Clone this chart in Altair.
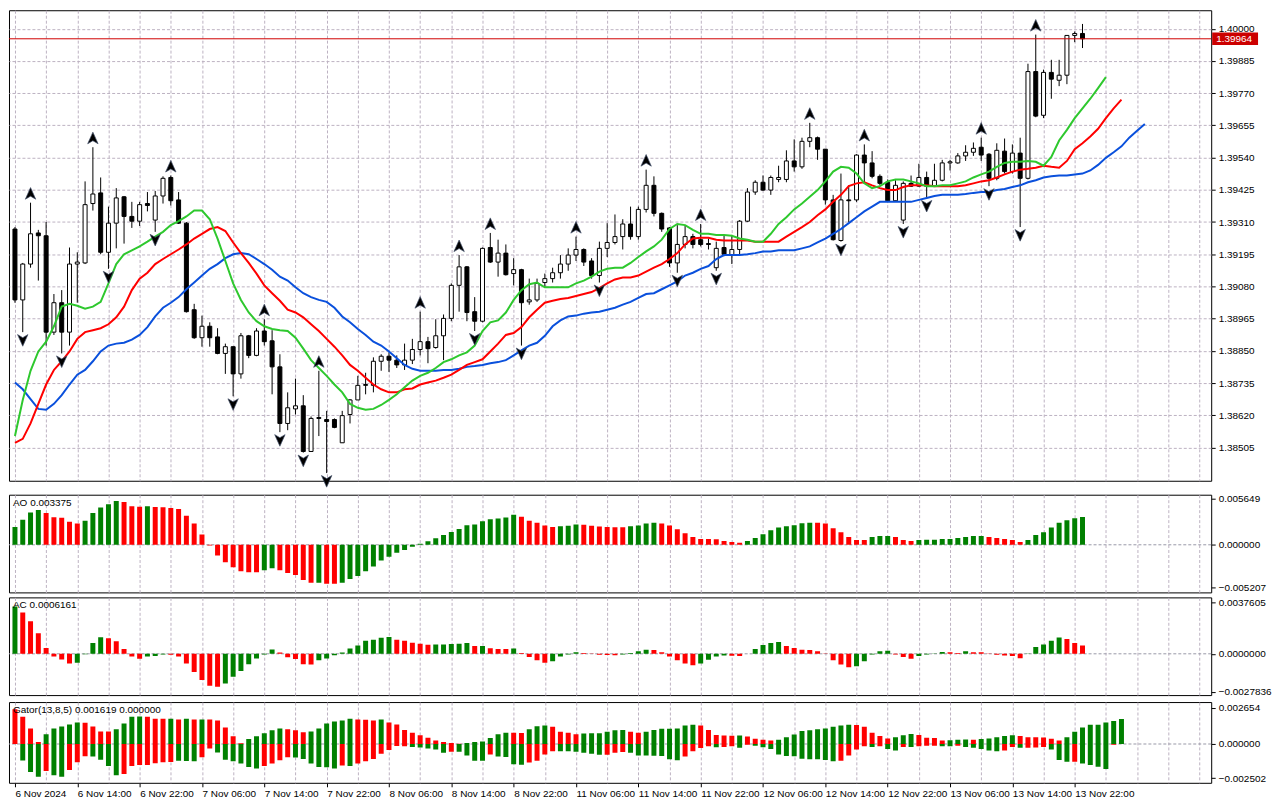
import json
import altair as alt
import pandas as pd

# ---------------- price data (units of 0.00001) ----------------
OPEN = [139285, 139032, 139160, 139271, 139261, 138917, 139022, 138917, 139160, 139164,
        139376, 139414, 139202, 139306, 139400, 139330, 139313, 139376, 139317, 139403,
        139469, 139389, 139306, 138997, 138897, 138938, 138900, 138841, 138865, 138768,
        138904, 138834, 138921, 138886, 138793, 138591, 138643, 138654, 138491, 138612,
        138605, 138605, 138522, 138623, 138675, 138727, 138727, 138813, 138831, 138817,
        138800, 138817, 138855, 138883, 138862, 138904, 138966, 139084, 139150, 138990,
        138956, 139219, 139167, 139199, 139126, 139140, 139025, 139032, 139094, 139108,
        139129, 139160, 139192, 139212, 139171, 139119, 139216, 139237, 139258, 139303,
        139258, 139355, 139441, 139341, 139289, 139164, 139230, 139258, 139247, 139233,
        139147, 139219, 139192, 139212, 139313, 139417, 139452, 139424, 139462, 139462,
        139528, 139507, 139598, 139611, 139570, 139389, 139244, 139389, 139389, 139549,
        139521, 139473, 139452, 139386, 139317, 139448, 139438, 139469, 139438, 139459,
        139521, 139521, 139546, 139559, 139577, 139552, 139466, 139563, 139490, 139556,
        139466, 139847, 139691, 139844, 139816, 139834, 139976, 139983]
HIGH = [139292, 139164, 139379, 139282, 139310, 139053, 139067, 139219, 139202, 139455,
        139577, 139469, 139365, 139431, 139403, 139382, 139382, 139417, 139421, 139473,
        139476, 139417, 139310, 139018, 138976, 138952, 138931, 138876, 138866, 138914,
        138907, 138931, 138963, 138924, 138838, 138702, 138751, 138692, 138616, 138779,
        138636, 138609, 138636, 138678, 138761, 138772, 138827, 138838, 138845, 138834,
        138876, 138893, 138990, 138900, 138963, 138980, 139091, 139192, 139153, 139042,
        139219, 139271, 139247, 139230, 139181, 139143, 139108, 139108, 139126, 139147,
        139192, 139216, 139258, 139216, 139181, 139240, 139306, 139337, 139320, 139365,
        139365, 139497, 139473, 139344, 139292, 139299, 139299, 139268, 139303, 139251,
        139240, 139261, 139264, 139317, 139431, 139459, 139476, 139476, 139511, 139566,
        139605, 139611, 139664, 139615, 139570, 139407, 139483, 139441, 139552, 139587,
        139563, 139480, 139462, 139459, 139455, 139476, 139518, 139490, 139518, 139532,
        139532, 139556, 139584, 139594, 139611, 139556, 139591, 139608, 139587, 139611,
        139875, 139979, 139854, 139889, 139889, 139977, 139990, 140017]
LOW = [139022, 138917, 139147, 139101, 138869, 138907, 138841, 138869, 139022, 139160,
       139351, 139195, 139143, 139216, 139233, 139289, 139296, 139348, 139275, 139376,
       139369, 139303, 138987, 138893, 138865, 138865, 138838, 138768, 138688, 138751,
       138824, 138831, 138869, 138695, 138560, 138567, 138623, 138487, 138491, 138546,
       138414, 138574, 138522, 138591, 138675, 138695, 138702, 138779, 138775, 138789,
       138782, 138803, 138834, 138806, 138858, 138817, 138956, 138990, 138956, 138921,
       138952, 139164, 139115, 139119, 139084, 138869, 139015, 139025, 139077, 139094,
       139108, 139136, 139171, 139153, 139108, 139094, 139185, 139230, 139212, 139247,
       139247, 139344, 139330, 139275, 139150, 139129, 139216, 139216, 139223, 139212,
       139136, 139188, 139160, 139195, 139310, 139407, 139421, 139407, 139452, 139452,
       139490, 139500, 139577, 139532, 139372, 139244, 139240, 139310, 139382, 139448,
       139466, 139441, 139386, 139382, 139303, 139435, 139435, 139396, 139435, 139455,
       139494, 139518, 139528, 139546, 139528, 139438, 139459, 139483, 139483, 139292,
       139462, 139684, 139681, 139750, 139795, 139802, 139952, 139931]
CLOSE = [139032, 139160, 139268, 139261, 138917, 139022, 138917, 139160, 139167, 139372,
         139410, 139202, 139306, 139396, 139330, 139313, 139372, 139369, 139403, 139466,
         139386, 139306, 138990, 138897, 138938, 138897, 138841, 138865, 138768, 138904,
         138834, 138921, 138883, 138793, 138591, 138647, 138654, 138491, 138609, 138609,
         138598, 138577, 138619, 138675, 138727, 138730, 138813, 138831, 138817, 138800,
         138817, 138855, 138883, 138858, 138904, 138966, 139084, 139150, 138987, 138956,
         139216, 139167, 139199, 139122, 139140, 139022, 139032, 139091, 139108, 139129,
         139160, 139192, 139212, 139167, 139119, 139216, 139237, 139258, 139303, 139258,
         139355, 139441, 139341, 139285, 139164, 139230, 139258, 139230, 139230, 139230,
         139216, 139195, 139212, 139313, 139417, 139452, 139424, 139469, 139469, 139528,
         139507, 139598, 139611, 139570, 139389, 139247, 139389, 139386, 139549, 139521,
         139473, 139448, 139386, 139441, 139448, 139438, 139469, 139438, 139459, 139521,
         139525, 139546, 139559, 139573, 139549, 139466, 139566, 139490, 139556, 139466,
         139847, 139688, 139844, 139820, 139834, 139976, 139983, 139964]

# Alligator lines (already displaced forward, units of 0.00001)
LIPS = [138546, 138675, 138779, 138848, 138883, 138938, 139008, 139018, 139011, 139001,
        139008, 139025, 139091, 139160, 139195, 139209, 139223, 139240, 139258, 139275,
        139299, 139313, 139330, 139351, 139351, 139320, 139251, 139171, 139091, 139032,
        138987, 138956, 138938, 138928, 138924, 138921, 138897, 138858, 138817, 138789,
        138761, 138730, 138702, 138661, 138647, 138640, 138643, 138657, 138675, 138695,
        138720, 138744, 138761, 138772, 138789, 138810, 138820, 138834, 138845, 138869,
        138921, 138952, 138959, 138987, 139032, 139067, 139088, 139094, 139077, 139077,
        139077, 139077, 139091, 139101, 139115, 139133, 139143, 139147, 139147, 139164,
        139185, 139205, 139223, 139247, 139285, 139303, 139299, 139282, 139268, 139268,
        139264, 139264, 139261, 139251, 139247, 139240, 139240, 139268, 139303, 139327,
        139355, 139376, 139400, 139424, 139455, 139490, 139507, 139504, 139483, 139448,
        139431, 139438, 139455, 139462, 139462, 139455, 139448, 139438, 139438, 139441,
        139441, 139448, 139455, 139469, 139480, 139490, 139507, 139521, 139525, 139525,
        139528, 139525, 139511, 139542, 139601, 139639, 139681, 139716, 139750, 139788,
        139827]
TEETH = [138522, 138536, 138591, 138661, 138730, 138782, 138813, 138848, 138893, 138917,
         138924, 138931, 138945, 138970, 139008, 139067, 139108, 139129, 139160, 139178,
         139195, 139212, 139230, 139251, 139268, 139285, 139292, 139278, 139237, 139199,
         139164, 139126, 139084, 139056, 139029, 138997, 138987, 138970, 138945, 138921,
         138893, 138865, 138834, 138800, 138779, 138754, 138730, 138713, 138702, 138702,
         138713, 138716, 138730, 138737, 138744, 138754, 138765, 138782, 138800, 138810,
         138820, 138848, 138876, 138907, 138914, 138935, 138970, 138997, 139022, 139029,
         139035, 139039, 139046, 139053, 139060, 139074, 139091, 139105, 139112, 139112,
         139119, 139133, 139147, 139160, 139178, 139199, 139230, 139251, 139254, 139254,
         139247, 139244, 139244, 139244, 139244, 139240, 139240, 139240, 139240, 139258,
         139275, 139292, 139310, 139334, 139355, 139382, 139407, 139438, 139448, 139452,
         139441, 139431, 139424, 139424, 139435, 139441, 139441, 139441, 139438, 139438,
         139438, 139438, 139441, 139448, 139455, 139459, 139469, 139480, 139490, 139497,
         139500, 139504, 139511, 139507, 139504, 139528, 139570, 139591, 139615, 139643,
         139681, 139716, 139747]
JAW = [138737, 138713, 138678, 138643, 138640, 138661, 138692, 138730, 138765, 138782,
       138813, 138848, 138869, 138876, 138879, 138890, 138907, 138935, 138973, 139004,
       139022, 139042, 139070, 139094, 139119, 139143, 139160, 139181, 139195, 139199,
       139195, 139178, 139160, 139140, 139115, 139101, 139077, 139056, 139042, 139032,
       139025, 139004, 138973, 138952, 138928, 138907, 138883, 138869, 138848, 138824,
       138800, 138786, 138779, 138779, 138779, 138782, 138782, 138786, 138793, 138796,
       138800, 138806, 138810, 138817, 138834, 138852, 138869, 138879, 138904, 138938,
       138959, 138973, 138976, 138983, 138987, 138990, 138997, 139004, 139015, 139025,
       139039, 139053, 139056, 139070, 139084, 139098, 139119, 139129, 139143, 139153,
       139178, 139192, 139192, 139192, 139195, 139199, 139205, 139205, 139209, 139209,
       139209, 139216, 139223, 139237, 139251, 139268, 139285, 139306, 139327, 139348,
       139365, 139382, 139382, 139382, 139382, 139382, 139389, 139396, 139403, 139407,
       139407, 139407, 139410, 139414, 139417, 139417, 139424, 139428, 139435, 139441,
       139452, 139459, 139469, 139473, 139476, 139476, 139480, 139483, 139494, 139514,
       139539, 139559, 139580, 139611, 139636, 139660]

FRACTAL_UP = [2, 10, 20, 32, 39, 52, 57, 61, 72, 81, 88, 102, 109, 124, 131]
FRACTAL_DOWN = [1, 6, 12, 18, 28, 34, 37, 40, 59, 65, 75, 85, 90, 106, 114, 117, 125, 129]

# ---------------- oscillators ----------------
AO = [0.00216, 0.00306, 0.00392, 0.00423, 0.00388, 0.00337, 0.00329, 0.00282, 0.00259, 0.00294,
      0.00388, 0.00455, 0.00494, 0.00533, 0.00521, 0.00470, 0.00463, 0.00470, 0.00459, 0.00458,
      0.00447, 0.00435, 0.00353, 0.00259, 0.00126, -0.00008, -0.00129, -0.00212, -0.00275, -0.00322,
      -0.00334, -0.00335, -0.00310, -0.00286, -0.00310, -0.00345, -0.00369, -0.00428, -0.00463, -0.00461,
      -0.00475, -0.00476, -0.00463, -0.00416, -0.00380, -0.00322, -0.00263, -0.00192, -0.00145, -0.00098,
      -0.00063, -0.00024, 0.00012, 0.00043, 0.00079, 0.00118, 0.00157, 0.00192, 0.00239, 0.00247,
      0.00286, 0.00310, 0.00321, 0.00333, 0.00365, 0.00341, 0.00294, 0.00267, 0.00235, 0.00216,
      0.00227, 0.00231, 0.00247, 0.00243, 0.00231, 0.00223, 0.00216, 0.00215, 0.00214, 0.00227,
      0.00235, 0.00259, 0.00270, 0.00259, 0.00235, 0.00188, 0.00141, 0.00094, 0.00071, 0.00070,
      0.00069, 0.00047, 0.00035, 0.00024, 0.00047, 0.00082, 0.00129, 0.00176, 0.00212, 0.00227,
      0.00239, 0.00263, 0.00270, 0.00267, 0.00259, 0.00200, 0.00153, 0.00094, 0.00059, 0.00058,
      0.00094, 0.00106, 0.00107, 0.00094, 0.00059, 0.00047, 0.00059, 0.00060, 0.00061, 0.00071,
      0.00072, 0.00082, 0.00094, 0.00106, 0.00107, 0.00094, 0.00082, 0.00071, 0.00059, 0.00035,
      0.00059, 0.00118, 0.00153, 0.00212, 0.00270, 0.00300, 0.00322, 0.003375]
AO_COL = ("gggg" "rrrrr" "ggggg" "rrr" "g" "rrrrrrrrrr" "rrrr" "gg" "rrrrr" "g" "rr"
          "gggggggggg" "gggggggggg" "ggg" "rrrrr" "ggg" "rrrrrr" "gggg" "rrrrrrrrrr" "r"
          "ggggggggg" "rrrrrrr" "ggg" "rrr" "ggggggggg" "rrrrr" "gggggggg")

AC = [0.00347, 0.00304, 0.00239, 0.00151, 0.00043, -0.00019, -0.00041, -0.00072, -0.00065, -0.00003,
      0.00079, 0.00122, 0.00115, 0.00093, 0.00036, -0.00019, -0.00036, -0.00019, -0.00017, -0.00005,
      -0.00007, -0.00019, -0.00072, -0.00134, -0.00192, -0.00235, -0.00242, -0.00218, -0.00168, -0.00127,
      -0.00077, -0.00034, -0.00005, 0.00031, 0.00010, -0.00026, -0.00038, -0.00077, -0.00078, -0.00048,
      -0.00034, -0.00010, 0.00010, 0.00038, 0.00060, 0.00096, 0.00103, 0.00117, 0.00124, 0.00103,
      0.00096, 0.00081, 0.00074, 0.00067, 0.00068, 0.00069, 0.00072, 0.00074, 0.00079, 0.00057,
      0.00058, 0.00041, 0.00036, 0.00035, 0.00038, 0.00005, -0.00024, -0.00048, -0.00065, -0.00055,
      -0.00019, -0.00005, 0.00012, 0.00005, -0.00002, -0.00007, -0.00008, -0.00010, -0.00005, 0.00005,
      0.00019, 0.00029, 0.00028, 0.00012, -0.00019, -0.00048, -0.00072, -0.00084, -0.00072, -0.00043,
      -0.00019, -0.00012, -0.00014, -0.00017, 0.00000, 0.00036, 0.00065, 0.00079, 0.00086, 0.00057,
      0.00043, 0.00029, 0.00028, 0.00019, -0.00002, -0.00048, -0.00079, -0.00098, -0.00091, -0.00055,
      -0.00005, 0.00019, 0.00022, -0.00005, -0.00024, -0.00036, -0.00017, -0.00005, -0.00002, 0.00014,
      0.00012, 0.00005, 0.00019, 0.00012, 0.00011, -0.00002, -0.00007, -0.00012, -0.00017, -0.00033,
      -0.00002, 0.00050, 0.00069, 0.00096, 0.00120, 0.00108, 0.00079, 0.0006161]
AC_COL = ("g" "rrrrrrr" "gggg" "rrrrr" "ggg" "rrrrrrr" "ggggggg" "rrrrr" "gggggggggg" "rrrrr"
          "ggggg" "r" "g" "rrr" "g" "rrrr" "gggg" "rrrrr" "gggg" "rrrrrr" "gggg" "rr" "ggggg"
          "rrrrrrrrr" "ggggg" "rrr" "gggg" "rr" "g" "rrrrrrr" "ggggg" "rrr")

GATOR_UP = [0.00254, 0.00199, 0.00114, 0.00014, 0.00071, 0.00114, 0.00128, 0.00142, 0.00156, 0.00155,
            0.00128, 0.00092, 0.00091, 0.00107, 0.00149, 0.00199, 0.00200, 0.00198, 0.00185, 0.00184,
            0.00185, 0.00178, 0.00185, 0.00178, 0.00179, 0.00178, 0.00171, 0.00121, 0.00057, 0.00005,
            0.00036, 0.00057, 0.00078, 0.00100, 0.00114, 0.00107, 0.00100, 0.00085, 0.00092, 0.00114,
            0.00149, 0.00164, 0.00171, 0.00185, 0.00178, 0.00177, 0.00171, 0.00178, 0.00156, 0.00142,
            0.00102, 0.00083, 0.00064, 0.00045, 0.00026, 0.00014, 0.00007, 0.00002, 0.00007, 0.00014,
            0.00019, 0.00043, 0.00071, 0.00083, 0.00082, 0.00081, 0.00107, 0.00130, 0.00135, 0.00126,
            0.00090, 0.00083, 0.00071, 0.00076, 0.00078, 0.00079, 0.00090, 0.00100, 0.00102, 0.00090,
            0.00083, 0.00090, 0.00102, 0.00111, 0.00112, 0.00113, 0.00135, 0.00140, 0.00135, 0.00102,
            0.00066, 0.00062, 0.00061, 0.00062, 0.00055, 0.00038, 0.00031, 0.00026, 0.00031, 0.00050,
            0.00069, 0.00095, 0.00100, 0.00107, 0.00114, 0.00126, 0.00135, 0.00140, 0.00139, 0.00126,
            0.00083, 0.00059, 0.00040, 0.00050, 0.00064, 0.00073, 0.00066, 0.00045, 0.00043, 0.00026,
            0.00027, 0.00031, 0.00032, 0.00031, 0.00036, 0.00040, 0.00050, 0.00059, 0.00064, 0.00059,
            0.00050, 0.00049, 0.00048, 0.00038, 0.00026, 0.00050, 0.00090, 0.00121, 0.00140, 0.00140,
            0.00156, 0.00168, 0.00182]
GATOR_UP_COL = ("rrrr" "ggggg" "rrrr" "gggg" "rrr" "g" "r" "g" "r" "g" "rrrrr" "ggggg" "rrr"
                "gggggg" "rrr" "g" "rrrrrrrrrr" "gggggg" "rr" "ggg" "rrrr" "gggggg" "rr"
                "ggggggg" "rrrrr" "g" "rrrr" "gggggggggg" "rrrrr" "ggg" "rrrr" "ggg" "r"
                "ggggg" "rrrrrr" "gggggggg")
GATOR_DN = [0, -0.00121, -0.00204, -0.00239, -0.00197, -0.00228, -0.00239, -0.00190, -0.00133, -0.00090,
            -0.00091, -0.00114, -0.00161, -0.00228, -0.00218, -0.00161, -0.00154, -0.00153, -0.00140, -0.00133,
            -0.00132, -0.00123, -0.00124, -0.00126, -0.00097, -0.00033, -0.00062, -0.00114, -0.00126, -0.00142,
            -0.00168, -0.00178, -0.00161, -0.00142, -0.00119, -0.00097, -0.00098, -0.00109, -0.00142, -0.00168,
            -0.00170, -0.00178, -0.00156, -0.00160, -0.00142, -0.00126, -0.00109, -0.00071, -0.00043, -0.00014,
            -0.00017, -0.00021, -0.00026, -0.00033, -0.00040, -0.00064, -0.00057, -0.00057, -0.00083, -0.00123,
            -0.00123, -0.00076, -0.00092, -0.00095, -0.00147, -0.00152, -0.00135, -0.00123, -0.00076, -0.00052,
            -0.00052, -0.00052, -0.00057, -0.00064, -0.00071, -0.00078, -0.00078, -0.00064, -0.00059, -0.00064,
            -0.00083, -0.00084, -0.00085, -0.00088, -0.00111, -0.00118, -0.00092, -0.00052, -0.00030, -0.00017,
            -0.00024, -0.00021, -0.00017, -0.00028, -0.00005, -0.00012, -0.00024, -0.00036, -0.00076, -0.00088,
            -0.00090, -0.00107, -0.00111, -0.00112, -0.00116, -0.00126, -0.00123, -0.00083, -0.00040, -0.00017,
            -0.00021, -0.00017, -0.00036, -0.00047, -0.00021, -0.00022, -0.00017, -0.00012, -0.00012, -0.00017,
            -0.00017, -0.00012, -0.00021, -0.00028, -0.00036, -0.00047, -0.00052, -0.00047, -0.00021, -0.00028,
            -0.00027, -0.00026, -0.00021, -0.00040, -0.00116, -0.00130, -0.00129, -0.00142, -0.00154, -0.00166,
            -0.00182, -0.00005, 0]
GATOR_DN_COL = ("g" "ggg" "r" "gg" "rrr" "gggg" "rrrrrrr" "ggg" "rr" "gggggg" "rrrr" "gggggg" "r"
                "g" "rrrrrrr" "ggggg" "r" "gggg" "r" "gggg" "rrrr" "gggggg" "rrr" "ggggggg" "rrrr"
                "g" "rr" "g" "r" "ggggggggggg" "rrrr" "g" "r" "gg" "r" "g" "rrr" "gg" "r" "ggggg"
                "rr" "g" "rrr" "ggg" "r" "gggg" "rr")

X_LABELS = ["6 Nov 2024", "6 Nov 14:00", "6 Nov 22:00", "7 Nov 06:00", "7 Nov 14:00",
            "7 Nov 22:00", "8 Nov 06:00", "8 Nov 14:00", "8 Nov 22:00", "11 Nov 06:00",
            "11 Nov 14:00", "11 Nov 22:00", "12 Nov 06:00", "12 Nov 14:00", "12 Nov 22:00",
            "13 Nov 06:00", "13 Nov 14:00", "13 Nov 22:00"]
PRICE_TICKS = [1.40000, 1.39885, 1.39770, 1.39655, 1.39540, 1.39425, 1.39310,
               1.39195, 1.39080, 1.38965, 1.38850, 1.38735, 1.38620, 1.38505]
AO_TICKS = [-0.005207, 0.0, 0.005649]
AC_TICKS = [-0.0027836, 0.0, 0.0037605]
GATOR_TICKS = [-0.002502, 0.0, 0.002654]
GATOR_TITLE = "Gator(13,8,5) 0.001619 0.000000"

# ---------------- layout / style ----------------
W = 1206
H_MAIN, H_AO, H_AC, H_GT = 472, 98, 98, 81
GRID = "#BDB2C2"
FONT = "Liberation Sans"
FS = 10
GREEN_BAR, RED_BAR = "#008000", "#FF0000"

xscale = alt.Scale(domain=[-0.125, 152.875], nice=False, zero=False)
grid_vals = list(range(0, 153, 4))
last_lab = 8 * (len(X_LABELS) - 1)
ax_hidden = alt.Axis(values=grid_vals, grid=True, gridColor=GRID, gridDash=[3, 2],
                     labels=False, ticks=False, domain=False, title=None)
lab_expr = ("(datum.value % 8 === 0 && datum.value <= " + str(last_lab) + ") ? "
            + json.dumps(X_LABELS) + "[datum.value / 8] : ''")
ax_bottom = alt.Axis(values=grid_vals, grid=True, gridColor=GRID, gridDash=[3, 2],
                     labelExpr=lab_expr, labelAlign="left", labelPadding=2,
                     labelFlush=False, labelOverlap=False, labelBound=False,
                     tickSize=4,
                     tickColor={"condition": {"test": "datum.value % 8 === 0 && datum.value <= " + str(last_lab),
                                              "value": "black"}, "value": "transparent"},
                     domain=False, title=None, labelFont=FONT, labelFontSize=FS, labelColor="black")

ymain = alt.Scale(domain=[1.383865, 1.400659], nice=False, zero=False)
ax_price = alt.Axis(orient="right", values=PRICE_TICKS, format=".5f", grid=True, gridColor=GRID,
                    gridDash=[3, 2], tickSize=4, tickColor="black", domain=False, labelPadding=3,
                    title=None, labelFont=FONT, labelFontSize=FS, labelColor="black")


def X(axis):
    return alt.X("i:Q", scale=xscale, axis=axis, title=None)


# ---------------- main price panel ----------------
n = len(CLOSE)
candles = pd.DataFrame({
    "i": list(range(n)),
    "o": [v / 1e5 for v in OPEN],
    "h": [v / 1e5 for v in HIGH],
    "l": [v / 1e5 for v in LOW],
    "c": [v / 1e5 for v in CLOSE],
})
candles["top"] = candles[["o", "c"]].max(axis=1)
candles["bot"] = candles[["o", "c"]].min(axis=1)


def Yp(field):
    return alt.Y(field + ":Q", scale=ymain, axis=ax_price, title=None)


wicks = alt.Chart(candles).mark_rule(color="black", strokeWidth=1, clip=True).encode(
    x=X(ax_hidden), y=Yp("l"), y2="h:Q")
bodies = alt.Chart(candles).mark_bar(size=4, stroke="black", strokeWidth=1, clip=True).encode(
    x=X(ax_hidden), y=Yp("bot"), y2="top:Q",
    fill=alt.condition("datum.c >= datum.o", alt.value("white"), alt.value("black")))


def line_layer(vals, color):
    df = pd.DataFrame({"i": list(range(len(vals))), "p": [v / 1e5 for v in vals]})
    return alt.Chart(df).mark_line(color=color, strokeWidth=2, clip=True).encode(x=X(ax_hidden), y=Yp("p"))


jaw = line_layer(JAW, "#0A50DC")
teeth = line_layer(TEETH, "#FF0000")
lips = line_layer(LIPS, "#2EC82E")

fu = pd.DataFrame({"i": FRACTAL_UP, "p": [HIGH[k] / 1e5 for k in FRACTAL_UP]})
fd = pd.DataFrame({"i": FRACTAL_DOWN, "p": [LOW[k] / 1e5 for k in FRACTAL_DOWN]})
up_marks = alt.Chart(fu).mark_point(shape="M0,-1L0.85,0.9L0,0.4L-0.85,0.9Z", filled=True, fill="black",
                                    stroke="#44506a", strokeWidth=0.7, size=150, opacity=1, yOffset=-9).encode(
    x=X(ax_hidden), y=Yp("p"))
dn_marks = alt.Chart(fd).mark_point(shape="M0,1L0.85,-0.9L0,-0.4L-0.85,-0.9Z", filled=True, fill="black",
                                    stroke="#44506a", strokeWidth=0.7, size=150, opacity=1, yOffset=8).encode(
    x=X(ax_hidden), y=Yp("p"))

last = pd.DataFrame({"p": [CLOSE[-1] / 1e5], "t": ["%.5f" % (CLOSE[-1] / 1e5)]})
price_line = alt.Chart(last).mark_rule(color="#D00000", strokeWidth=1).encode(y=Yp("p"))
price_box = alt.Chart(last).mark_point(shape="M-1,-0.27L1,-0.27L1,0.27L-1,0.27Z", filled=True,
                                       fill="#CC0000", strokeWidth=0, size=2116, opacity=1, clip=False).encode(
    x=alt.value(W + 24), y=Yp("p"))
price_txt = alt.Chart(last).mark_text(align="left", baseline="middle", color="white", font=FONT,
                                      fontSize=FS, clip=False).encode(
    x=alt.value(W + 5), y=Yp("p"), text="t:N")

main = alt.layer(wicks, bodies, jaw, teeth, lips, up_marks, dn_marks, price_line, price_box, price_txt).properties(
    width=W, height=H_MAIN)


# ---------------- indicator panels ----------------
def col_list(vals, cols):
    return [("r" if (k < len(cols) and cols[k] == "r") else "g") for k in range(len(vals))]


color_scale = alt.Scale(domain=["g", "r"], range=[GREEN_BAR, RED_BAR])


def panel(series, dom, ticks, fmt, label, height, xaxis):
    yscale = alt.Scale(domain=dom, nice=False, zero=False)
    yaxis = alt.Axis(orient="right", values=ticks, format=fmt, grid=False, tickSize=4, tickColor="black",
                     domain=False, labelPadding=3, title=None, labelFont=FONT, labelFontSize=FS,
                     labelColor="black")
    zero = alt.Chart(pd.DataFrame({"z": [0.0]})).mark_rule(color="#9A9AA8", strokeDash=[3, 2],
                                                             strokeWidth=1).encode(
        y=alt.Y("z:Q", scale=yscale, axis=yaxis, title=None))
    layers = [zero]
    for vals, cols in series:
        df = pd.DataFrame({"i": list(range(len(vals))), "v": vals, "c": col_list(vals, cols)})
        layers.append(alt.Chart(df).mark_bar(size=5, clip=True).encode(
            x=X(xaxis),
            y=alt.Y("v:Q", scale=yscale, axis=yaxis, title=None),
            y2=alt.Y2Datum(0),
            color=alt.Color("c:N", scale=color_scale, legend=None)))
    txt = alt.Chart(pd.DataFrame({"t": [label]})).mark_text(align="left", baseline="top", font=FONT,
                                                             fontSize=FS, color="black").encode(
        x=alt.value(4), y=alt.value(3), text="t:N")
    layers.append(txt)
    return alt.layer(*layers).properties(width=W, height=height)


ao_panel = panel([(AO, AO_COL)], [-0.0058, 0.0061], AO_TICKS, ".6f", "AO %.6f" % AO[-1], H_AO, ax_hidden)
ac_panel = panel([(AC, AC_COL)], [-0.00303, 0.00414], AC_TICKS, ".7f", "AC %.7f" % AC[-1], H_AC, ax_hidden)
gator_panel = panel([(GATOR_UP, GATOR_UP_COL), (GATOR_DN, GATOR_DN_COL)], [-0.00283, 0.00306],
                    GATOR_TICKS, ".6f", GATOR_TITLE, H_GT, ax_bottom)

chart = alt.vconcat(main, ao_panel, ac_panel, gator_panel, spacing=3).properties(
    padding={"left": 0, "top": 0, "right": 0, "bottom": 0},
    background="white",
).configure_view(stroke="black", strokeWidth=1).configure_axis(
    labelFont=FONT, labelFontSize=FS, labelColor="black")

chart.save("out.html", embed_options={"renderer": "svg", "actions": False})
